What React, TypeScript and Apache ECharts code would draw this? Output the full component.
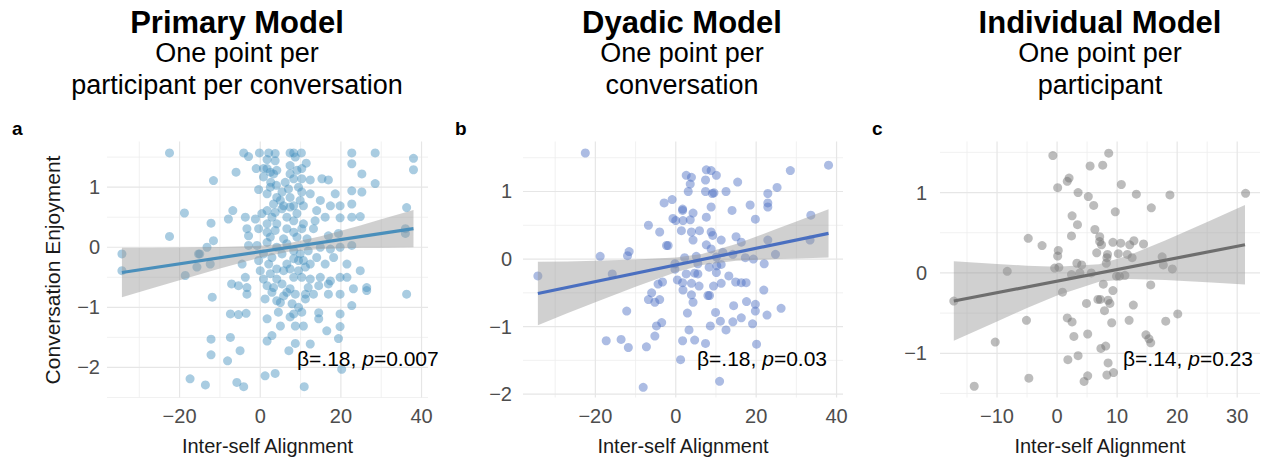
import React, { useEffect, useRef } from 'react';
import * as echarts from 'echarts';

// ---------- Data ----------
const panelTitles = ['Primary Model', 'Dyadic Model', 'Individual Model'];
const panelSub1 = ['One point per', 'One point per', 'One point per'];
const panelSub2 = ['participant per conversation', 'conversation', 'participant'];
const panelLetters = ['a', 'b', 'c'];
const xAxisTitle = 'Inter-self Alignment';
const yAxisTitle = 'Conversation Enjoyment';

const primaryPoints: [number, number][] = [
  [-22.5, 1.57], [-4.1, 1.57], [-2.9, 1.51], [-0.2, 1.57], [2.1, 1.57], [3.7, 1.56], [3.7, 1.44], [1.7, 1.46], [7.4, 1.57], [8.3, 1.57], [10.2, 1.57], [8.7, 1.5], [22.7, 1.57], [28.5, 1.57], [38, 1.48], [38, 1.29], [22.7, 1.39], [25.2, 1.22], [28.5, 1.06],
  [-1, 1.31], [0.8, 1.31], [1.7, 1.31], [2.5, 1.25], [3.3, 1.22], [4.1, 1.28], [7.4, 1.36], [7.4, 1.22], [9.1, 1.28], [10.3, 1.31], [11.4, 1.4], [8.3, 1.14], [10.3, 1.14], [12.4, 1.12], [15.3, 1.14], [16.9, 1.12], [-11.6, 1.11], [-6, 1.25], [-0.4, 0.96], [2.5, 1.0], [4, 1.03], [6.2, 1.08], [10.3, 0.92], [12.4, 0.89], [18.6, 0.89], [22.7, 0.94], [25.2, 0.92], [14.9, 0.78], [17.4, 0.69], [19.8, 0.69], [22.7, 0.72], [36.3, 0.66], [36, 0.31], [36, 0.23],
  [-18.8, 0.57], [-12.2, 0.4], [-22.5, 0.18], [-6.8, 0.61], [-7.9, 0.47], [-3.7, 0.5], [-1.2, 0.47], [1.7, 0.61], [2.9, 0.5], [1.7, 0.39], [4.1, 0.39], [5.4, 0.64], [7.4, 0.67], [9.1, 0.56], [6.6, 0.5], [4.1, 0.83], [5, 0.78], [7.4, 0.83], [9.9, 0.78], [14, 0.61], [13.6, 0.44], [16.1, 0.5], [19.8, 0.49], [22.7, 0.5], [24.8, 0.51], [13.2, 0.31], [16.9, 0.19], [19.4, 0.23], [-3.3, 0.31], [-2.9, 0.19], [-0.4, 0.31], [1.7, 0.25], [3.7, 0.28], [6.6, 0.31], [8.3, 0.25], [10.3, 0.31], [-11.6, 0.11], [-13.2, 0], [-15, -0.11], [-2.9, 0.03], [-0.8, 0.03], [1.7, 0.08], [4.1, 0], [6.6, 0.06], [8.3, -0.06], [9.9, -0.11], [11.9, -0.06], [14.9, 0], [17.4, -0.03], [19.8, 0], [22.7, 0.03], [-34.3, -0.11], [-34.3, -0.39], [-18.6, -0.47], [-15.7, -0.33], [-12.4, -0.28], [-15.3, -0.11],
  [-4.5, -0.28], [-0.4, -0.22], [0, -0.39], [2.1, -0.28], [4.1, -0.36], [6.6, -0.28], [8.3, -0.19], [10.7, -0.22], [14, -0.17], [16.1, -0.28], [18.2, -0.17], [21.5, -0.28], [24.8, -0.39], [-3.7, -0.5], [0.8, -0.53], [4.1, -0.53], [8.3, -0.5], [10.3, -0.5], [12.4, -0.53], [14.9, -0.5], [17.4, -0.56], [19.8, -0.5], [21.5, -0.5], [-7.1, -0.61], [-5.4, -0.64], [-3.3, -0.67], [1.7, -0.64], [3.3, -0.67], [5.4, -0.61], [7.4, -0.69], [11.9, -0.67], [14.5, -0.64], [16.9, -0.61], [23.1, -0.69], [26.4, -0.67], [-3.3, -0.78], [1.2, -0.86], [4.1, -0.89], [5.8, -0.81], [8.7, -0.78], [11.2, -0.78], [13.2, -0.78], [16.9, -0.78], [19.8, -0.78], [26.4, -0.72], [36.3, -0.78], [-11.9, -0.83], [7.9, -0.94], [11.2, -0.86], [22.7, -0.97],
  [-7.4, -1.11], [-5.4, -1.12], [-3.5, -1.1], [4.5, -1.08], [8.3, -1.11], [10.3, -1.08], [14.5, -1.09], [19.8, -1.11], [1.7, -1.19], [7.4, -1.16], [14.5, -1.19], [5, -1.31], [8.7, -1.31], [10.7, -1.31], [19.8, -1.32], [16.5, -1.39], [1.7, -1.56], [2.9, -1.47], [-7.4, -1.5], [-12.2, -1.53], [19.4, -1.52], [8.7, -1.6], [12.4, -1.61], [7.1, -1.72], [-5, -1.72], [-12.2, -1.79], [-8.1, -1.89], [-17.4, -2.19], [-13.6, -2.29], [-5.8, -2.25], [-4.1, -2.32], [1.2, -2.14], [3.7, -2.1], [10.9, -2.32], [20.2, -2.03],
  [0.8, 1.17], [2.6, 1.08], [1.7, 0.89], [5.4, 0.92], [7, 0.97], [9.5, 1.0], [3.3, 0.72], [5.8, 0.69], [8.3, 0.69], [10.7, 0.69], [0.4, 0.56], [3.7, 0.58], [8.3, 0.44], [10.7, 0.39], [2.5, 0.17], [5.8, 0.14], [9.1, 0.17], [11.6, 0.14], [0.8, -0.11], [2.9, -0.17], [5.4, -0.11], [9.5, -0.22], [12.4, -0.28], [2.5, -0.44], [5.8, -0.39], [7.4, -0.36], [9.5, -0.39], [11.2, -0.33], [2.9, -0.75], [6.6, -0.75], [5, -0.92], [9.5, -1.0],
];

const dyadicPoints: [number, number][] = [
  [-22.5, 1.57], [7.6, 1.32], [8.8, 1.31], [28.5, 1.31], [38, 1.39], [2.6, 1.24], [3.9, 1.21], [10.1, 1.24], [3.6, 1.11], [7.4, 1.17], [15.4, 1.14],
  [3.1, 1.0], [7.4, 1.0], [9.5, 0.98], [12.5, 1.0], [22.9, 0.97], [25.2, 1.06], [9.1, 0.97],
  [-2.9, 0.83], [-0.9, 0.88], [1.7, 0.74], [1.7, 0.72], [4.3, 0.68], [8.8, 0.77], [14, 0.72], [18.5, 0.8], [22.9, 0.83], [22.9, 0.77],
  [-6.8, 0.5], [-4, 0.4], [-0.7, 0.6], [0, 0.57], [1.8, 0.57], [3.6, 0.58], [7.6, 0.62], [19.8, 0.59], [33.6, 0.65],
  [1.4, 0.42], [3.9, 0.4], [5.9, 0.42], [8.8, 0.4], [9.2, 0.35], [11.3, 0.28], [4.3, 0.28], [15, 0.33],
  [-2.3, 0.2], [-1.9, 0.2], [7.6, 0.21], [8.8, 0.15], [11.7, 0.1], [16.3, 0.25], [22.9, 0.28], [33.4, 0.28],
  [-18.8, 0.04], [-12, 0.05], [-11.6, 0.11], [2.2, 0.02], [5.1, 0.04], [10.1, 0.03], [14.2, 0.07], [17.3, 0.02], [19.3, 0], [24.8, 0.07],
  [-34.3, -0.25], [-15.8, -0.22], [-0.2, -0.07], [-0.2, -0.15], [5.5, -0.07], [8.3, -0.12], [10.2, -0.1], [11.3, -0.08], [22, -0.07], [2.6, -0.22], [4.7, -0.21], [5.5, -0.22], [10.1, -0.2], [13.2, -0.25],
  [0.4, -0.31], [1.7, -0.35], [3.9, -0.36], [5.8, -0.4], [9.4, -0.4], [11.3, -0.36], [14.9, -0.34], [16.3, -0.35], [17.5, -0.35], [-4.4, -0.37], [-3.3, -0.34], [21.9, -0.46], [1.8, -0.46],
  [-6, -0.5], [-6.8, -0.6], [-5.2, -0.64], [-4, -0.6], [3.9, -0.53], [4.3, -0.64], [8, -0.54], [8.4, -0.54],
  [-12.2, -0.77], [2.9, -0.8], [9.9, -0.79], [14.4, -0.69], [17.6, -0.63], [19.8, -0.67], [19.8, -0.77], [22.7, -0.83], [26.2, -0.73], [16.3, -0.87],
  [-4.8, -0.99], [-3.5, -0.94], [8.6, -0.99], [11.1, -0.92], [12.5, -1.05], [14.2, -0.93], [19.1, -0.96],
  [-5.2, -1.14], [3.3, -1.05], [-17.3, -1.21], [-13.6, -1.19], [-11.8, -1.31], [-7.3, -1.3], [1.7, -1.21], [4.7, -1.2], [7.4, -1.25], [20.1, -1.26],
  [1.2, -1.49], [10.9, -1.81], [-8.1, -1.9],
];

const individualPoints: [number, number][] = [
  [-0.7, 1.46], [8.6, 1.49], [5.5, 1.33], [7.6, 1.34], [2, 1.18], [1.7, 1.14], [0.1, 1.06], [10.7, 1.1],
  [3.5, 1.0], [5.2, 0.95], [6.1, 0.84], [13.2, 0.98], [18.8, 0.97], [31.4, 0.99], [9.7, 0.76], [15.7, 0.81],
  [2.5, 0.71], [3.4, 0.6], [6.3, 0.54], [7.1, 0.45], [2.4, 0.46], [-4.8, 0.43], [-2.5, 0.34],
  [7.1, 0.39], [7.4, 0.35], [9.3, 0.38], [10.6, 0.37], [12.1, 0.35], [12.8, 0.4], [14.4, 0.36],
  [0.2, 0.28], [0.1, 0.21], [6.6, 0.25], [8.4, 0.23], [8.3, 0.19], [10.2, 0.24], [11.7, 0.23], [12.5, 0.19], [17.5, 0.2],
  [3.3, 0.12], [4.1, 0.1], [8.2, 0.12], [17.7, 0.1], [19.2, 0.05], [-8.3, 0.02], [-0.4, 0.06], [0.3, 0.07],
  [3.8, 0], [5.7, 0], [2.4, -0.02], [9.9, -0.04], [10.4, -0.04], [11.3, -0.03], [15.6, -0.15], [7.7, -0.14], [9.3, -0.22], [0.9, -0.24],
  [-17.2, -0.35], [6.8, -0.33], [7.2, -0.33], [8.5, -0.34], [8.8, -0.38], [4.9, -0.38], [12.7, -0.4],
  [7.9, -0.47], [20.1, -0.51], [1.7, -0.56], [2.5, -0.61], [-5.1, -0.59], [12, -0.59], [18.1, -0.6], [9.1, -0.62],
  [2.8, -0.79], [5.1, -0.76], [14.8, -0.77], [15.3, -0.82], [15.6, -0.87], [-10.3, -0.86],
  [7.3, -0.94], [8.1, -0.91], [3.5, -1.03], [1.8, -1.08], [8.5, -1.12],
  [8.3, -1.27], [9.4, -1.24], [5.1, -1.28], [4.5, -1.35], [-4.7, -1.31], [-13.8, -1.41],
];

// fitted lines (end points)
const primaryFitX = [-34.3, 38];
const primaryFitY = [-0.42, 0.31];
const dyadicFitX = [-34.3, 38];
const dyadicFitY = [-0.51, 0.38];
const individualFitX = [-17.2, 31.3];
const individualFitY = [-0.35, 0.35];

// confidence bands
const primaryBandX = [-34.3, -27, -20, -10, 0, 7, 15, 25, 30, 38];
const primaryBandLo = [-0.83, -0.686, -0.549, -0.355, -0.172, -0.073, -0.027, -0.01, -0.006, -0.001];
const primaryBandHi = [-0.01, -0.006, -0.003, 0.005, 0.024, 0.067, 0.183, 0.368, 0.466, 0.621];
const dyadicBandX = [-34.3, -27, -20, -10, 0, 6.5, 15, 25, 30, 38];
const dyadicBandLo = [-0.98, -0.804, -0.64, -0.41, -0.195, -0.087, -0.026, -0.001, 0.007, 0.023];
const dyadicBandHi = [-0.04, -0.036, -0.024, -0.008, 0.021, 0.073, 0.222, 0.443, 0.557, 0.737];
const individualBandX = [-17.2, -10, -5, 0, 7, 12, 18, 25, 31.3];
const individualBandLo = [-0.845, -0.603, -0.437, -0.28, -0.111, -0.077, -0.088, -0.116, -0.145];
const individualBandHi = [0.145, 0.111, 0.089, 0.076, 0.109, 0.219, 0.404, 0.634, 0.845];

// axis tick labels
const xTicksAB = [-20, 0, 20, 40];
const xMinorAB = [-30, -10, 10, 30];
const xTicksC = [-10, 0, 10, 20, 30];
const xMinorC = [-15, -5, 5, 15, 25];
const yTicksA = [-2, -1, 0, 1];
const yMinorA = [-2.5, -1.5, -0.5, 0.5, 1.5];
const yTicksB = [-2, -1, 0, 1];
const yMinorB = [-1.5, -0.5, 0.5, 1.5];
const yTicksC = [-1, 0, 1];
const yMinorC = [-1.5, -0.5, 0.5, 1.5];

const annotations = [
  ['β=.18, ', 'p', '=0.007'],
  ['β=.18, ', 'p', '=0.03'],
  ['β=.14, ', 'p', '=0.23'],
];

// ---------- Styling ----------
const FONT = '"Liberation Sans", Arial, Helvetica, sans-serif';

const panels = [
  {
    points: primaryPoints, fitX: primaryFitX, fitY: primaryFitY,
    bandX: primaryBandX, bandLo: primaryBandLo, bandHi: primaryBandHi,
    xTicks: xTicksAB, xMinor: xMinorAB, yTicks: yTicksA, yMinor: yMinorA,
    grid: { left: 107, top: 141.5, width: 321, height: 256 },
    xMin: -38, xMax: 41.6, xInt: 2, yMin: -2.5, yMax: 1.76, yInt: 0.5, yLabelMargin: 7,
    pointColor: 'rgba(70,145,190,0.58)', lineColor: '#4a8fbb',
    titleX: 237, annX: 297,
  },
  {
    points: dyadicPoints, fitX: dyadicFitX, fitY: dyadicFitY,
    bandX: dyadicBandX, bandLo: dyadicBandLo, bandHi: dyadicBandHi,
    xTicks: xTicksAB, xMinor: xMinorAB, yTicks: yTicksB, yMinor: yMinorB,
    grid: { left: 523, top: 141.5, width: 320, height: 256 },
    xMin: -38, xMax: 41.6, xInt: 2, yMin: -2.05, yMax: 1.74, yInt: 0.05, yLabelMargin: 11,
    pointColor: 'rgba(75,110,195,0.58)', lineColor: '#4a6fc0',
    titleX: 682, annX: 697,
  },
  {
    points: individualPoints, fitX: individualFitX, fitY: individualFitY,
    bandX: individualBandX, bandLo: individualBandLo, bandHi: individualBandHi,
    xTicks: xTicksC, xMinor: xMinorC, yTicks: yTicksC, yMinor: yMinorC,
    grid: { left: 940, top: 141.5, width: 320, height: 256 },
    xMin: -19.5, xMax: 33.8, xInt: 0.5, yMin: -1.55, yMax: 1.635, yInt: 0.05, yLabelMargin: 13,
    pointColor: 'rgba(110,110,110,0.58)', lineColor: '#6e6e6e',
    titleX: 1100, annX: 1123,
  },
];

const labelFormatter = (labels: number[]) => (v: number) => {
  const r = Math.round(v);
  if (Math.abs(v - r) > 1e-6 || !labels.includes(r)) return '';
  return r < 0 ? '\u2212' + Math.abs(r) : String(r);
};

function buildOption() {
  const grids: any[] = [];
  const xAxes: any[] = [];
  const yAxes: any[] = [];
  const series: any[] = [];
  const graphics: any[] = [];

  panels.forEach((p, i) => {
    grids.push({ ...p.grid, containLabel: false });
    xAxes.push({
      type: 'value', gridIndex: i, min: p.xMin, max: p.xMax, interval: p.xInt,
      axisLine: { show: false }, axisTick: { show: false }, splitLine: { show: false },
      axisLabel: { formatter: labelFormatter(p.xTicks), color: '#4d4d4d', fontSize: 20, fontFamily: FONT, margin: 8 },
    });
    yAxes.push({
      type: 'value', gridIndex: i, min: p.yMin, max: p.yMax, interval: p.yInt,
      axisLine: { show: false }, axisTick: { show: false }, splitLine: { show: false },
      axisLabel: { formatter: labelFormatter(p.yTicks), color: '#4d4d4d', fontSize: 20, fontFamily: FONT, margin: p.yLabelMargin },
    });

    // grid lines
    series.push({
      type: 'custom', xAxisIndex: i, yAxisIndex: i, z: 0, silent: true,
      data: [[p.xMin, p.yMin]],
      renderItem: (params: any, api: any) => {
        const cs = params.coordSys;
        const children: any[] = [];
        const addV = (v: number, major: boolean) => {
          const x = api.coord([v, p.yMin])[0];
          children.push({ type: 'line', shape: { x1: x, y1: cs.y, x2: x, y2: cs.y + cs.height },
            style: { stroke: major ? '#e6e6e6' : '#eeeeee', lineWidth: major ? 1.2 : 0.8 } });
        };
        const addH = (v: number, major: boolean) => {
          const y = api.coord([p.xMin, v])[1];
          children.push({ type: 'line', shape: { x1: cs.x, y1: y, x2: cs.x + cs.width, y2: y },
            style: { stroke: major ? '#e6e6e6' : '#eeeeee', lineWidth: major ? 1.2 : 0.8 } });
        };
        p.xMinor.forEach((v) => addV(v, false));
        p.yMinor.forEach((v) => addH(v, false));
        p.xTicks.forEach((v) => addV(v, true));
        p.yTicks.forEach((v) => addH(v, true));
        return { type: 'group', children };
      },
    });

    series.push({
      type: 'scatter', xAxisIndex: i, yAxisIndex: i, z: 2, symbolSize: 9,
      data: p.points, itemStyle: { color: p.pointColor }, silent: true,
    });

    series.push({
      type: 'custom', xAxisIndex: i, yAxisIndex: i, z: 3, silent: true,
      data: [[p.bandX[0], p.bandLo[0]]],
      renderItem: (params: any, api: any) => {
        const pts: number[][] = [];
        for (let k = 0; k < p.bandX.length; k++) pts.push(api.coord([p.bandX[k], p.bandHi[k]]));
        for (let k = p.bandX.length - 1; k >= 0; k--) pts.push(api.coord([p.bandX[k], p.bandLo[k]]));
        return { type: 'polygon', shape: { points: pts }, style: { fill: 'rgba(150,150,150,0.45)' } };
      },
    });

    series.push({
      type: 'line', xAxisIndex: i, yAxisIndex: i, z: 4, silent: true, showSymbol: false,
      data: p.fitX.map((x, k) => [x, p.fitY[k]]),
      lineStyle: { color: p.lineColor, width: 3.2 },
    });

    // texts
    graphics.push({ type: 'text', x: p.titleX, y: 22, style: { text: panelTitles[i], fontSize: 31, fontWeight: 'bold', fontFamily: FONT, fill: '#000', align: 'center', verticalAlign: 'middle' } });
    graphics.push({ type: 'text', x: p.titleX, y: 53, style: { text: panelSub1[i], fontSize: 27, fontFamily: FONT, fill: '#000', align: 'center', verticalAlign: 'middle' } });
    graphics.push({ type: 'text', x: p.titleX, y: 85, style: { text: panelSub2[i], fontSize: 27, fontFamily: FONT, fill: '#000', align: 'center', verticalAlign: 'middle' } });
    graphics.push({ type: 'text', x: p.grid.left - (i === 0 ? 95 : 68), y: 128, style: { text: panelLetters[i], fontSize: 19, fontWeight: 'bold', fontFamily: FONT, fill: '#000', align: 'left', verticalAlign: 'middle' } });
    graphics.push({ type: 'text', x: p.grid.left + p.grid.width / 2, y: 446, style: { text: xAxisTitle, fontSize: 20, fontFamily: FONT, fill: '#1a1a1a', align: 'center', verticalAlign: 'middle' } });
    const a = annotations[i];
    graphics.push({
      type: 'text', x: p.annX, y: 358, z: 10,
      style: {
        text: `{n|${a[0]}}{i|${a[1]}}{n|${a[2]}}`,
        fontSize: 21, fontFamily: FONT, fill: '#000', align: 'left', verticalAlign: 'middle',
        rich: {
          n: { fontSize: 21, fontFamily: FONT, fill: '#000' },
          i: { fontSize: 21, fontFamily: FONT, fill: '#000', fontStyle: 'italic' },
        },
      },
    });
  });

  graphics.push({ type: 'text', x: 52, y: 270, rotation: Math.PI / 2, style: { text: yAxisTitle, fontSize: 21, fontFamily: FONT, fill: '#1a1a1a', align: 'center', verticalAlign: 'middle' } });

  return {
    animation: false,
    backgroundColor: '#ffffff',
    grid: grids,
    xAxis: xAxes,
    yAxis: yAxes,
    series,
    graphic: graphics,
  };
}

export default function App() {
  const ref = useRef<HTMLDivElement>(null);
  useEffect(() => {
    if (!ref.current) return;
    const chart = echarts.init(ref.current, undefined, { renderer: 'svg' });
    chart.setOption(buildOption() as any);
    return () => chart.dispose();
  }, []);
  return <div ref={ref} style={{ position: 'absolute', left: 0, top: 0, width: 1265, height: 457 }} />;
}
